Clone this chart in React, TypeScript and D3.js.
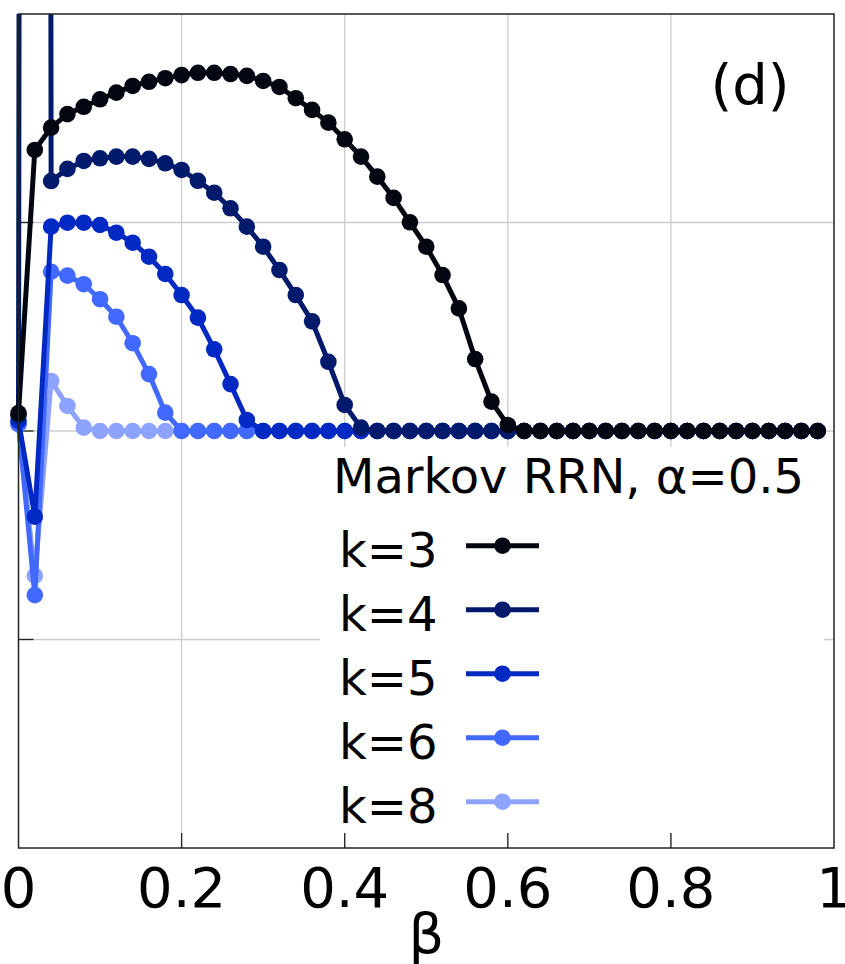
import React from "react";
import * as d3 from "d3";

const beta = [
  0, 0.02, 0.04, 0.06, 0.08, 0.1, 0.12, 0.14, 0.16, 0.18,
  0.2, 0.22, 0.24, 0.26, 0.28, 0.3, 0.32, 0.34, 0.36, 0.38,
  0.4, 0.42, 0.44, 0.46, 0.48, 0.5, 0.52, 0.54, 0.56, 0.58,
  0.6, 0.62, 0.64, 0.66, 0.68, 0.7, 0.72, 0.74, 0.76, 0.78,
  0.8, 0.82, 0.84, 0.86, 0.88, 0.9, 0.92, 0.94, 0.96, 0.98,
];

const k3 = [
  0.086, 1.348, 1.455, 1.52, 1.555, 1.591, 1.623, 1.655, 1.675, 1.692,
  1.707, 1.718, 1.718, 1.712, 1.703, 1.679, 1.65, 1.596, 1.54, 1.479,
  1.399, 1.316, 1.22, 1.118, 1.001, 0.884, 0.748, 0.588, 0.345, 0.141,
  0.029, 0, 0, 0, 0, 0, 0, 0, 0, 0,
  0, 0, 0, 0, 0, 0, 0, 0, 0, 0,
];
const k4 = [
  0.075, 60, 1.199, 1.257, 1.295, 1.308, 1.316, 1.316, 1.305, 1.284,
  1.252, 1.2, 1.143, 1.068, 0.98, 0.884, 0.772, 0.652, 0.526, 0.332,
  0.125, 0.016, 0, 0, 0, 0, 0, 0, 0, 0,
  0, 0, 0, 0, 0, 0, 0, 0, 0, 0,
  0, 0, 0, 0, 0, 0, 0, 0, 0, 0,
];
const k5 = [
  0.05, -0.411, 0.98, 0.999, 0.999, 0.988, 0.951, 0.903, 0.836, 0.753,
  0.652, 0.544, 0.392, 0.225, 0.053, 0, 0, 0, 0, 0,
  0, 0, 0, 0, 0, 0, 0, 0, 0, 0,
  0, 0, 0, 0, 0, 0, 0, 0, 0, 0,
  0, 0, 0, 0, 0, 0, 0, 0, 0, 0,
];
const k6 = [
  0.035, -0.787, 0.764, 0.745, 0.704, 0.632, 0.548, 0.421, 0.273, 0.088,
  0, 0, 0, 0, 0, 0, 0, 0, 0, 0,
  0, 0, 0, 0, 0, 0, 0, 0, 0, 0,
  0, 0, 0, 0, 0, 0, 0, 0, 0, 0,
  0, 0, 0, 0, 0, 0, 0, 0, 0, 0,
];
const k8 = [
  0.03, -0.694, 0.24, 0.12, 0.016, 0, 0, 0, 0, 0,
  0, 0, 0, 0, 0, 0, 0, 0, 0, 0,
  0, 0, 0, 0, 0, 0, 0, 0, 0, 0,
  0, 0, 0, 0, 0, 0, 0, 0, 0, 0,
  0, 0, 0, 0, 0, 0, 0, 0, 0, 0,
];

const seriesLabels = ["k=3", "k=4", "k=5", "k=6", "k=8"];
const seriesValues = [k3, k4, k5, k6, k8];
const seriesColors = ["#020611", "#011a6b", "#0028c2", "#4169ff", "#8da3ff"];

const xTicks = [0, 0.2, 0.4, 0.6, 0.8, 1];
const xTickLabels = ["0", "0.2", "0.4", "0.6", "0.8", "1"];
const yTicks = [-2, -1, 0, 1, 2];

const legendTitle = "Markov RRN, \u03b1=0.5";
const panelLabel = "(d)";
const xLabel = "\u03b2";

const W = 845;
const H = 964;
const L = 18.5;
const R = 834;
const T = 14;
const B = 848;
const FONT = "'DejaVu Sans', sans-serif";

export default function App() {
  const x = d3.scaleLinear().domain([0, 1]).range([L, R]);
  const y = d3.scaleLinear().domain([-2, 2]).range([B, T]);
  const line = d3
    .line<number>()
    .x((_, i) => x(beta[i]))
    .y((d) => y(d));

  const order = [4, 3, 2, 1, 0];
  const legY0 = 545.7;
  const legDy = 64;

  return (
    <svg
      width={W}
      height={H}
      style={{ position: "absolute", left: 0, top: 0, background: "#fff" }}
      fontFamily={FONT}
    >
      <defs>
        <clipPath id="plotclip">
          <rect x={0} y={T} width={W} height={B - T} />
        </clipPath>
      </defs>
      <rect x={0} y={0} width={W} height={H} fill="#fff" />
      {/* grid */}
      {xTicks.slice(1, -1).map((t) => (
        <line key={"gx" + t} x1={x(t)} x2={x(t)} y1={T} y2={B} stroke="#cccccc" strokeWidth={1.3} />
      ))}
      {yTicks.slice(1, -1).map((t) => (
        <line key={"gy" + t} x1={L} x2={R} y1={y(t)} y2={y(t)} stroke="#cccccc" strokeWidth={1.3} />
      ))}
      {/* ticks */}
      {xTicks.slice(1, -1).map((t) => (
        <line key={"tx" + t} x1={x(t)} x2={x(t)} y1={B} y2={B - 15} stroke="#222" strokeWidth={1.3} />
      ))}
      {yTicks.slice(1, -1).map((t) => (
        <line key={"ty" + t} x1={L} x2={L + 15} y1={y(t)} y2={y(t)} stroke="#222" strokeWidth={1.3} />
      ))}
      {/* legend background */}
      <rect x={320} y={447} width={504} height={386} fill="#fff" />
      {/* series */}
      <g clipPath="url(#plotclip)">
        {order.map((si) => (
          <g key={"s" + si}>
            <path d={line(seriesValues[si]) || ""} fill="none" stroke={seriesColors[si]} strokeWidth={5} strokeLinejoin="round" />
            {seriesValues[si].map((v, i) => (
              <circle key={i} cx={x(beta[i])} cy={y(v)} r={8.3} fill={seriesColors[si]} />
            ))}
          </g>
        ))}
      </g>
      {/* frame */}
      <rect x={L} y={T} width={R - L} height={B - T} fill="none" stroke="#222" strokeWidth={1.5} />
      {/* tick labels */}
      {xTicks.map((t, i) => (
        <text key={"xl" + t} x={x(t)} y={906.5} fontSize={56} textAnchor="middle" fill="#000">
          {xTickLabels[i]}
        </text>
      ))}
      <text x={(L + R) / 2} y={952.5} fontSize={56} textAnchor="middle" fill="#000">
        {xLabel}
      </text>
      <text x={750} y={104} fontSize={56} textAnchor="middle" fill="#000">
        {panelLabel}
      </text>
      {/* legend */}
      <text x={333} y={493} fontSize={48} fill="#000">
        {legendTitle}
      </text>
      {seriesLabels.map((lab, i) => (
        <g key={"leg" + i}>
          <text x={339} y={legY0 + i * legDy + 21} fontSize={48} fill="#000">
            {lab}
          </text>
          <line x1={466} x2={539} y1={legY0 + i * legDy} y2={legY0 + i * legDy} stroke={seriesColors[i]} strokeWidth={5} />
          <circle cx={502.5} cy={legY0 + i * legDy} r={8.3} fill={seriesColors[i]} />
        </g>
      ))}
    </svg>
  );
}
